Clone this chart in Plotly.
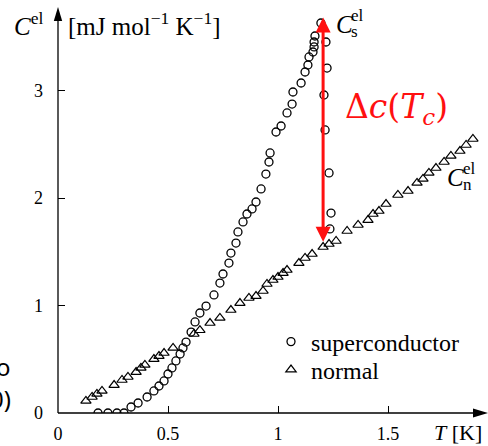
import plotly.graph_objects as go

# ---------------- data ----------------
sc_T = [0.182, 0.227, 0.268, 0.300, 0.332, 0.364, 0.405, 0.436, 0.459, 0.482,
        0.500, 0.518, 0.536, 0.555, 0.568, 0.582, 0.605, 0.623, 0.645, 0.673,
        0.709, 0.736, 0.750, 0.777, 0.786, 0.809, 0.818, 0.841, 0.859, 0.882,
        0.900, 0.923, 0.945, 0.959, 0.964, 0.991, 1.014, 1.041, 1.064, 1.068,
        1.105, 1.123, 1.136, 1.141, 1.159, 1.164, 1.164, 1.168, 1.195,
        1.218, 1.223, 1.209, 1.214, 1.232, 1.241, 1.236]
sc_C = [0.000, 0.000, 0.000, 0.000, 0.056, 0.093, 0.149, 0.205, 0.251, 0.298,
        0.363, 0.419, 0.484, 0.549, 0.605, 0.660, 0.753, 0.847, 0.930, 0.995,
        1.098, 1.209, 1.293, 1.395, 1.488, 1.581, 1.684, 1.777, 1.851, 1.898,
        1.963, 2.084, 2.223, 2.335, 2.419, 2.614, 2.670, 2.791, 2.874, 2.986,
        3.070, 3.172, 3.237, 3.312, 3.358, 3.405, 3.451, 3.507, 3.628,
        3.451, 3.209, 2.958, 2.633, 2.233, 1.860, 1.712]

nm_T = [0.127, 0.155, 0.177, 0.200, 0.255, 0.291, 0.318, 0.355, 0.377, 0.395,
        0.436, 0.459, 0.482, 0.523, 0.618, 0.645, 0.691, 0.736, 0.786, 0.827,
        0.868, 0.900, 0.932, 0.950, 0.977, 1.000, 1.023, 1.041, 1.095, 1.123,
        1.155, 1.205, 1.232, 1.264, 1.314, 1.364, 1.409, 1.432, 1.459, 1.491,
        1.545, 1.591, 1.632, 1.659, 1.686, 1.718, 1.755, 1.786, 1.827, 1.855,
        1.886]
nm_C = [0.112, 0.149, 0.177, 0.205, 0.260, 0.307, 0.335, 0.381, 0.419, 0.447,
        0.502, 0.530, 0.558, 0.605, 0.735, 0.770, 0.837, 0.884, 0.958, 1.023,
        1.070, 1.088, 1.135, 1.200, 1.237, 1.265, 1.302, 1.330, 1.395, 1.442,
        1.479, 1.544, 1.572, 1.600, 1.693, 1.749, 1.795, 1.851, 1.879, 1.944,
        2.028, 2.065, 2.140, 2.177, 2.233, 2.279, 2.335, 2.391, 2.437, 2.493,
        2.549]

x_ticks = [0, 0.5, 1, 1.5]
x_tick_labels = ["0", "0.5", "1", "1.5"]
y_ticks = [0, 1, 2, 3]
y_tick_labels = ["0", "1", "2", "3"]

Tc = 1.205
delta_bottom = 1.58   # C_n at Tc
delta_top = 3.68      # C_s peak

series_names = ["superconductor", "normal"]

# ---------------- layout geometry ----------------
W, H = 488, 446
ML, MB = 58, 33
PW, PH = W - ML, H - MB
PX_T, PX_C = 220.0, 107.5

def px(xp):
    return (xp - ML) / PW

def py(yp):
    return (PH - yp) / PH

SERIF = "Liberation Serif, Times New Roman, serif"

fig = go.Figure()
fig.add_trace(go.Scatter(
    x=sc_T, y=sc_C, mode="markers", name=series_names[0], legend="legend",
    marker=dict(symbol="circle-open", size=8, color="black", line=dict(width=1.3)),
))
fig.add_trace(go.Scatter(
    x=nm_T, y=nm_C, mode="markers", name=series_names[1], legend="legend2",
    marker=dict(symbol="triangle-up-open", size=9, color="black", line=dict(width=1.2)),
))

shapes = []
# x axis line + arrowhead
shapes.append(dict(type="line", xref="paper", yref="paper",
                   x0=px(58), y0=py(413), x1=px(476), y1=py(413),
                   line=dict(color="black", width=1.3)))
shapes.append(dict(type="path", xref="paper", yref="paper",
                   path=f"M {px(488)},{py(413)} L {px(473)},{py(408.5)} L {px(473)},{py(417.5)} Z",
                   fillcolor="black", line=dict(width=0)))
# y axis line + arrowhead
shapes.append(dict(type="line", xref="paper", yref="paper",
                   x0=px(58), y0=py(413), x1=px(58), y1=py(20),
                   line=dict(color="black", width=1.3)))
shapes.append(dict(type="path", xref="paper", yref="paper",
                   path=f"M {px(58)},{py(7)} L {px(53.8)},{py(21)} L {px(62.2)},{py(21)} Z",
                   fillcolor="black", line=dict(width=0)))

ann = []
# red double arrow
ann.append(dict(x=Tc, y=delta_top, ax=Tc, ay=delta_bottom, xref="x", yref="y",
                axref="x", ayref="y", text="", showarrow=True,
                arrowside="end+start", arrowhead=2, startarrowhead=2,
                arrowsize=1, startarrowsize=1, arrowwidth=3, arrowcolor="#ff1010",
                standoff=0, startstandoff=0))
ann.append(dict(x=px(343), y=py(109), xref="paper", yref="paper",
                xanchor="left", yanchor="middle", showarrow=False,
                text="Δ<i>c</i>(<i>T</i><sub><i>c</i></sub>)",
                font=dict(family="DejaVu Serif", size=33, color="#ff1010")))
# y axis title
ann.append(dict(x=px(12), y=py(24), xref="paper", yref="paper",
                xanchor="left", yanchor="middle", showarrow=False,
                text="<i>C</i><sup>el</sup>",
                font=dict(family=SERIF, size=25, color="black")))
ann.append(dict(x=px(66), y=py(24), xref="paper", yref="paper",
                xanchor="left", yanchor="middle", showarrow=False,
                text="[mJ mol<sup>−1</sup> K<sup>−1</sup>]",
                font=dict(family=SERIF, size=25, color="black")))
# x axis title
ann.append(dict(x=px(432), y=py(432), xref="paper", yref="paper",
                xanchor="left", yanchor="middle", showarrow=False,
                text="<i>T</i> [K]",
                font=dict(family=SERIF, size=22, color="black")))
# C_s^el
ann.append(dict(x=px(334), y=py(25), xref="paper", yref="paper",
                xanchor="left", yanchor="middle", showarrow=False,
                text="<i>C</i>", font=dict(family=SERIF, size=25, color="black")))
ann.append(dict(x=px(349), y=py(15), xref="paper", yref="paper",
                xanchor="left", yanchor="middle", showarrow=False,
                text="el", font=dict(family=SERIF, size=17, color="black")))
ann.append(dict(x=px(349), y=py(31), xref="paper", yref="paper",
                xanchor="left", yanchor="middle", showarrow=False,
                text="s", font=dict(family=SERIF, size=17, color="black")))
# C_n^el
ann.append(dict(x=px(445), y=py(177), xref="paper", yref="paper",
                xanchor="left", yanchor="middle", showarrow=False,
                text="<i>C</i>", font=dict(family=SERIF, size=25, color="black")))
ann.append(dict(x=px(461), y=py(168), xref="paper", yref="paper",
                xanchor="left", yanchor="middle", showarrow=False,
                text="el", font=dict(family=SERIF, size=17, color="black")))
ann.append(dict(x=px(461), y=py(184), xref="paper", yref="paper",
                xanchor="left", yanchor="middle", showarrow=False,
                text="n", font=dict(family=SERIF, size=17, color="black")))
# cropped fragments at the left edge
ann.append(dict(x=px(13), y=py(366), xref="paper", yref="paper",
                xanchor="right", yanchor="middle", showarrow=False,
                text="o", font=dict(family="Noto Sans", size=24, color="black")))
ann.append(dict(x=px(13), y=py(398), xref="paper", yref="paper",
                xanchor="right", yanchor="middle", showarrow=False,
                text="0)", font=dict(family="Noto Sans", size=24, color="black")))

leg_common = dict(xanchor="left", yanchor="middle", xref="paper", yref="paper",
                  font=dict(family=SERIF, size=24, color="black"),
                  bgcolor="rgba(0,0,0,0)", itemwidth=30, borderwidth=0)

fig.update_layout(
    width=W, height=H,
    margin=dict(l=ML, r=0, t=0, b=MB, pad=0),
    paper_bgcolor="white", plot_bgcolor="white",
    font=dict(family=SERIF, color="black"),
    shapes=shapes, annotations=ann,
    showlegend=True,
    legend=dict(x=px(271), y=py(342), **leg_common),
    legend2=dict(x=px(271), y=py(370), **leg_common),
    xaxis=dict(range=[0, PW / PX_T], showgrid=False, zeroline=False, showline=False,
               tickvals=x_ticks, ticktext=x_tick_labels, ticks="inside", ticklen=7,
               tickwidth=1.2, tickcolor="black", ticklabelstandoff=8,
               tickfont=dict(family=SERIF, size=18, color="black")),
    yaxis=dict(range=[0, PH / PX_C], showgrid=False, zeroline=False, showline=False,
               tickvals=y_ticks, ticktext=y_tick_labels, ticks="inside", ticklen=7,
               tickwidth=1.2, tickcolor="black", ticklabelstandoff=14,
               tickfont=dict(family=SERIF, size=18, color="black")),
)

fig.write_html("out.html")
